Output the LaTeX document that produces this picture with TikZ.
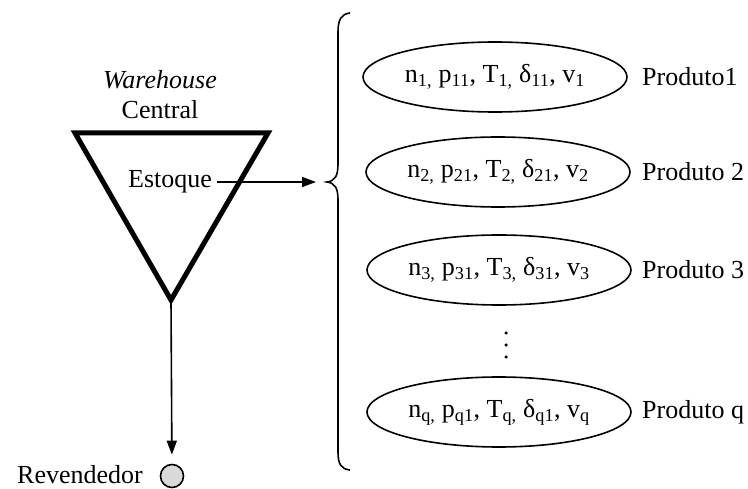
\documentclass[tikz,border=0pt]{standalone}
\usepackage{fontspec}
\setmainfont{Liberation Serif}
\usetikzlibrary{shapes.geometric,arrows.meta}
\tikzset{
  lbl/.style={font=\fontsize{26}{30}\selectfont, inner sep=0pt},
  prod/.style={draw, ellipse, line width=1.6pt, minimum width=264pt, minimum height=70pt, inner sep=0pt, font=\fontsize{26}{30}\selectfont},
  arr/.style={line width=1.6pt, -{Triangle[length=14pt,width=10pt]}},
  dotc/.style={circle, fill=black, inner sep=0pt, minimum size=3.5pt}
}
\newcommand{\sbx}[1]{\textsubscript{#1}}
\begin{document}
\begin{tikzpicture}[x=1pt,y=-1pt]
\useasboundingbox (0,0) rectangle (748,489);
% triangle
\coordinate (tl) at (75,133);
\coordinate (tr) at (268,133);
\coordinate (apex) at (171,300);
\draw[line width=5pt, line join=miter] (tl) -- (tr) -- (apex) -- cycle;
\node[lbl, font=\fontsize{26}{30}\selectfont\itshape] (wh) at (160,80) {Warehouse};
\node[lbl] (central) at (160,110) {Central};
\node[lbl] (est) at (170,182) {Estoque};
% brace
\coordinate (bt) at (327,182);
\coordinate (btop) at (350,13);
\coordinate (bbot) at (350,470);
\draw[line width=1.6pt] (btop) .. controls (341,14) and (338,20) .. (338,32) -- (338,164)
  .. controls (338,176) and (335,181) .. (bt) .. controls (335,183) and (338,188) .. (338,200)
  -- (338,452) .. controls (338,464) and (341,469) .. (bbot);
\coordinate (arrend) at (316,182);
\draw[arr] (est.east) ++(5pt,0) -- (arrend);
% revendedor
\node[circle, draw, fill=black!15, line width=1.6pt, minimum size=23pt, inner sep=0pt] (rev) at (172,476) {};
\node[lbl, anchor=east] (revl) at (143,475) {Revendedor};
\draw[arr, shorten >=9pt] (apex) -- (rev);
% products
\node[prod] (p1) at (495,77) {n\sbx{1,} p\sbx{11}, T\sbx{1,} δ\sbx{11}, v\sbx{1}};
\node[prod] (p2) at (498,172) {n\sbx{2,} p\sbx{21}, T\sbx{2,} δ\sbx{21}, v\sbx{2}};
\node[prod] (p3) at (499,270) {n\sbx{3,} p\sbx{31}, T\sbx{3,} δ\sbx{31}, v\sbx{3}};
\node[prod] (pq) at (499,412) {n\sbx{q,} p\sbx{q1}, T\sbx{q,} δ\sbx{q1}, v\sbx{q}};
\node[lbl, anchor=west] (l1) at (642,77) {Produto1};
\node[lbl, anchor=west] (l2) at (642,172) {Produto 2};
\node[lbl, anchor=west] (l3) at (642,270) {Produto 3};
\node[lbl, anchor=west] (lq) at (642,412) {Produto q};
\node[dotc] (d1) at (506,333) {};
\node[dotc] (d2) at (506,345) {};
\node[dotc] (d3) at (506,357) {};
\end{tikzpicture}
\end{document}
